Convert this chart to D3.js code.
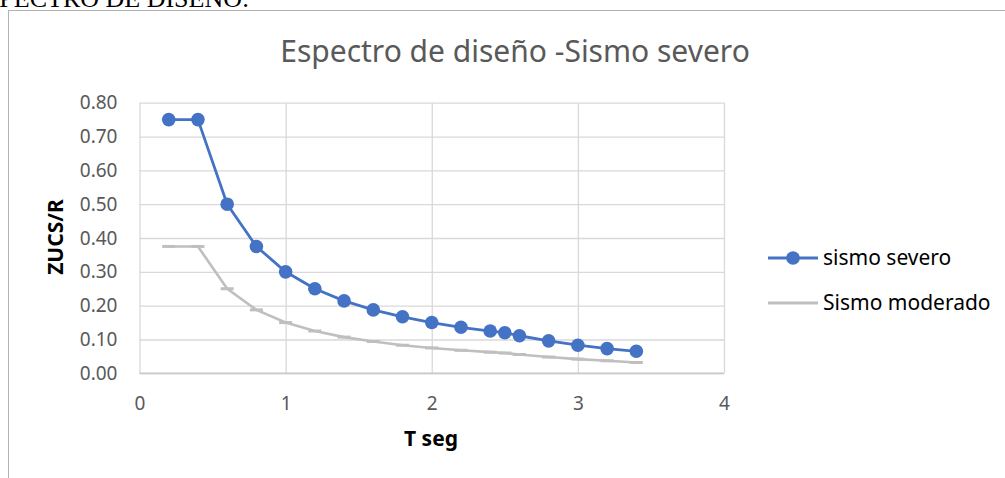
<!DOCTYPE html>
<html>
<head>
    <meta charset="utf-8">
    <style>
        body { margin: 0; background: #fff; }
        svg { display: block; font-family: "Noto Sans", sans-serif; }
        .grid line { stroke: #d9d9d9; stroke-width: 1.3; }
        .grid .domain { display: none; }
        .y .domain, .x .domain { display: none; }
        .y .tick line, .x .tick line { display: none; }
        .y .tick text, .x .tick text { font-family: "Noto Sans", sans-serif; font-size: 19px; fill: #595959; }
    </style>
</head>
<body>
<svg width="1005" height="478"></svg>

<script src="https://d3js.org/d3.v7.min.js"></script>
<script>
    // periods (s) and spectral values
    let periods = [0.2, 0.4, 0.6, 0.8, 1.0, 1.2, 1.4, 1.6, 1.8, 2.0, 2.2, 2.4, 2.5, 2.6, 2.8, 3.0, 3.2, 3.4]
    let severo = [0.75, 0.75, 0.50, 0.375, 0.30, 0.25, 0.214, 0.1875, 0.167, 0.15, 0.136, 0.125, 0.12, 0.111, 0.096, 0.083, 0.073, 0.065]
    let moderado = [0.375, 0.375, 0.25, 0.1875, 0.15, 0.125, 0.107, 0.094, 0.083, 0.075, 0.068, 0.0625, 0.06, 0.0555, 0.048, 0.042, 0.037, 0.032]
    let xTicks = [0, 1, 2, 3, 4]
    let yTicks = [0, 0.1, 0.2, 0.3, 0.4, 0.5, 0.6, 0.7, 0.8]
    let seriesNames = ["sismo severo", "Sismo moderado"]

    let svg = d3.select("svg")

    let margin = { top: 102.7, right: 281, bottom: 104.7, left: 139.5 }
    let width = 1005
    let height = 478

    let x = d3.scaleLinear()
        .domain([0, 4])
        .range([margin.left, width - margin.right])

    let y = d3.scaleLinear()
        .domain([0, 0.8])
        .range([height - margin.bottom, margin.top])

    // text from the document above the chart, cut by the top edge
    svg.append("text")
        .attr("x", -31)
        .attr("y", 7)
        .style("font-family", "'Liberation Serif', serif")
        .style("font-size", "26px")
        .style("fill", "#000")
        .text("ESPECTRO DE DISEÑO:")

    // chart frame (runs off the right and bottom)
    svg.append("rect")
        .attr("x", 8.5)
        .attr("y", 10.5)
        .attr("width", 1100)
        .attr("height", 600)
        .style("fill", "none")
        .style("stroke", "#b3b3b3")
        .style("stroke-width", 1)

    // gridlines
    svg.append("g")
        .attr("class", "grid")
        .attr("transform", `translate(${margin.left},0)`)
        .call(d3.axisLeft(y).tickValues(yTicks).tickSize(-(width - margin.left - margin.right)).tickFormat(""))

    svg.append("g")
        .attr("class", "grid")
        .attr("transform", `translate(0,${height - margin.bottom})`)
        .call(d3.axisBottom(x).tickValues(xTicks).tickSize(-(height - margin.top - margin.bottom)).tickFormat(""))

    // bottom axis line
    svg.append("line")
        .attr("x1", x(0))
        .attr("x2", x(4))
        .attr("y1", y(0))
        .attr("y2", y(0))
        .style("stroke", "#c8c8c8")
        .style("stroke-width", 1.6)

    // tick labels
    svg.append("g")
        .attr("class", "y axis")
        .attr("transform", `translate(${margin.left - 13},0)`)
        .call(d3.axisLeft(y).tickValues(yTicks).tickSize(0).tickPadding(9).tickFormat(d3.format(".2f")))

    svg.append("g")
        .attr("class", "x axis")
        .attr("transform", `translate(0,${height - margin.bottom + 14})`)
        .call(d3.axisBottom(x).tickValues(xTicks).tickSize(0).tickPadding(9).tickFormat(d3.format("d")))

    // title
    svg.append("text")
        .attr("x", 515)
        .attr("y", 62)
        .style("text-anchor", "middle")
        .style("font-size", "30px")
        .style("fill", "#595959")
        .text("Espectro de diseño -Sismo severo")

    // axis titles
    svg.append("text")
        .attr("x", 431)
        .attr("y", 446)
        .style("text-anchor", "middle")
        .style("font-size", "21px")
        .style("font-weight", "bold")
        .style("fill", "#000")
        .text("T seg")

    svg.append("text")
        .attr("transform", "translate(63,237) rotate(-90)")
        .style("text-anchor", "middle")
        .style("font-size", "21px")
        .style("font-weight", "bold")
        .style("fill", "#000")
        .text("ZUCS/R")

    let modData = periods.map((t, i) => ({ t: t, v: moderado[i] }))
    let sevData = periods.map((t, i) => ({ t: t, v: severo[i] }))

    let line = d3.line()
        .x(d => x(d.t))
        .y(d => y(d.v))

    // moderate series: grey line with short dash markers
    svg.append("path")
        .datum(modData)
        .attr("d", line)
        .style("fill", "none")
        .style("stroke", "#bfbfbf")
        .style("stroke-width", 2.6)
        .style("stroke-linejoin", "round")

    svg.append("g")
        .selectAll("line")
        .data(modData)
        .join("line")
        .attr("x1", d => x(d.t) - 6.5)
        .attr("x2", d => x(d.t) + 6.5)
        .attr("y1", d => y(d.v))
        .attr("y2", d => y(d.v))
        .style("stroke", "#bfbfbf")
        .style("stroke-width", 3)

    // severe series: blue line with dots
    svg.append("path")
        .datum(sevData)
        .attr("d", line)
        .style("fill", "none")
        .style("stroke", "#4472c4")
        .style("stroke-width", 2.8)
        .style("stroke-linejoin", "round")

    svg.append("g")
        .selectAll("circle")
        .data(sevData)
        .join("circle")
        .attr("cx", d => x(d.t))
        .attr("cy", d => y(d.v))
        .attr("r", 6.8)
        .style("fill", "#4472c4")

    // legend
    let legend = svg.append("g")

    legend.append("line")
        .attr("x1", 768).attr("x2", 818)
        .attr("y1", 258).attr("y2", 258)
        .style("stroke", "#4472c4")
        .style("stroke-width", 2.8)

    legend.append("circle")
        .attr("cx", 793).attr("cy", 258).attr("r", 6.8)
        .style("fill", "#4472c4")

    legend.append("line")
        .attr("x1", 768).attr("x2", 818)
        .attr("y1", 303).attr("y2", 303)
        .style("stroke", "#bfbfbf")
        .style("stroke-width", 2.8)

    legend.selectAll("text")
        .data(seriesNames)
        .join("text")
        .attr("x", 823)
        .attr("y", (d, i) => 265 + i * 45)
        .style("font-size", "21px")
        .style("fill", "#000")
        .text(d => d)
</script>
</body>
</html>
